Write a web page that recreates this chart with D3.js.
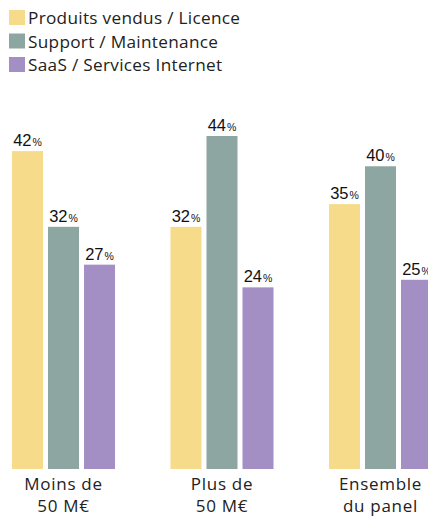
<!DOCTYPE html>
<html><head><meta charset="utf-8">
<script src="https://cdn.jsdelivr.net/npm/d3@7/dist/d3.min.js"></script>
<style>body{margin:0;background:#fff;overflow:hidden}</style>
</head><body>
<svg id="c" width="428" height="516"></svg>
<script>
const categories = [["Moins de","50 M€"],["Plus de","50 M€"],["Ensemble","du panel"]];
const series = ["Produits vendus / Licence","Support / Maintenance","SaaS / Services Internet"];
const licence = [42, 32, 35];
const support = [32, 44, 40];
const saas = [27, 24, 25];
const colors = ["#F6DB8B","#8DA6A1","#A48FC5"];
const values = [licence, support, saas];

const svg = d3.select("#c");
const catIdx = d3.range(categories.length);
const x0 = d3.scaleBand().domain(catIdx).range([12, 432]).paddingInner(0.35).paddingOuter(0);
const x1 = d3.scaleBand().domain(d3.range(series.length)).range([0, x0.bandwidth()]).paddingInner(0.139);
const y = d3.scaleLinear().domain([0, 44]).range([469, 136]);

const textFont = "'Open Sans', Lato, sans-serif";
const numFont = "'Liberation Sans', Arial, sans-serif";

// legend
const leg = svg.append("g");
series.forEach((s,i)=>{
  leg.append("rect").attr("x",9).attr("y",10+i*23.5).attr("width",16).attr("height",15).attr("fill",colors[i]);
  leg.append("text").attr("x",28).attr("y",24+i*23.5).attr("font-family",textFont).attr("font-size",17.2).attr("letter-spacing",0.3).attr("fill","#222").text(s);
});

// bars
const g = svg.append("g");
catIdx.forEach(ci=>{
  values.forEach((arr,si)=>{
    const v = arr[ci];
    const bx = x0(ci)+x1(si);
    g.append("rect").attr("x",bx).attr("y",y(v)).attr("width",x1.bandwidth()).attr("height",y(0)-y(v)).attr("fill",colors[si]);
    const t = g.append("text").attr("x",bx+x1.bandwidth()/2).attr("y",y(v)-5).attr("text-anchor","middle").attr("font-family",numFont).attr("fill","#111");
    t.append("tspan").attr("font-size",16.5).text(v);
    t.append("tspan").attr("font-size",10.5).attr("dx",1).text("%");
  });
  const cx = x0(ci)+x0.bandwidth()/2;
  const lbl = svg.append("text").attr("text-anchor","middle").attr("font-family",textFont).attr("font-size",17).attr("letter-spacing",0.7).attr("fill","#222");
  categories[ci].forEach((line,li)=>{
    lbl.append("tspan").attr("x",cx).attr("y",490+li*22).text(line);
  });
});
</script>
</body></html>
